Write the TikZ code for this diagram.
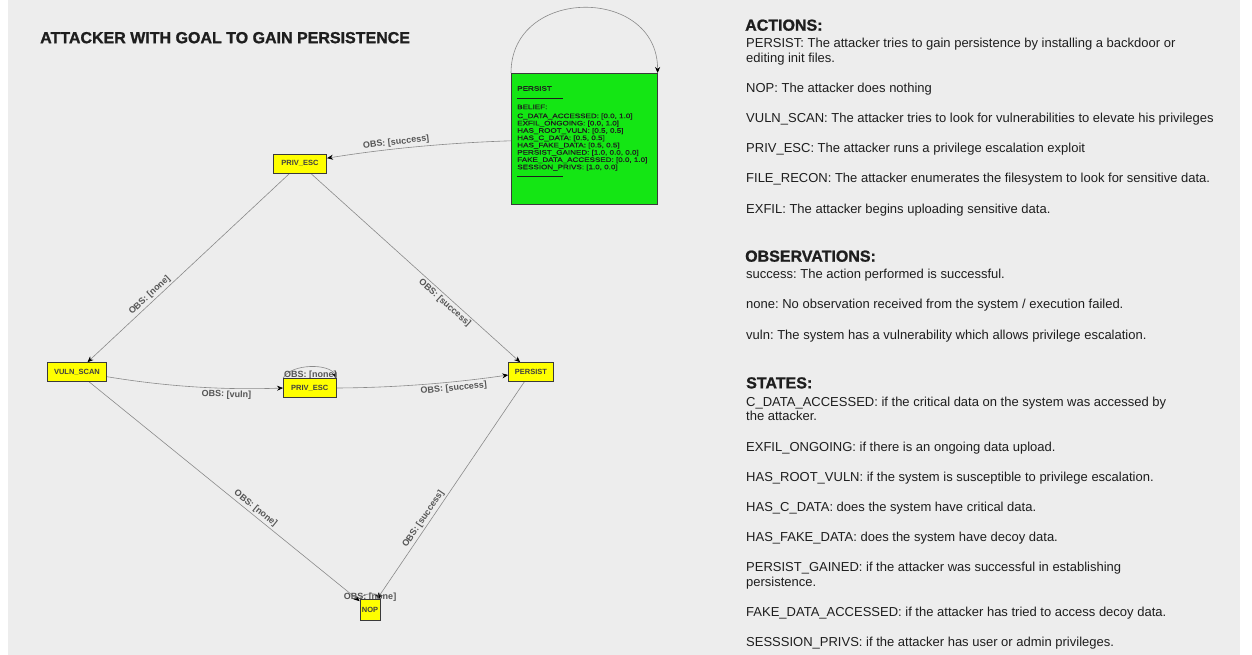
\documentclass[tikz,border=0pt]{standalone}
\usepackage{fontspec}
\setmainfont{Liberation Sans}
\newfontfamily\stretchfont[FakeStretch=1.24,FakeBold=0.6]{Liberation Sans}
\newfontfamily\heavyfont[FakeBold=1.2]{Liberation Sans Bold}
\usetikzlibrary{arrows.meta}
\definecolor{bg}{HTML}{EDEDED}
\definecolor{boxyellow}{HTML}{FFFF00}
\definecolor{boxgreen}{HTML}{14E614}
\definecolor{edgegray}{HTML}{8A8A8A}
\definecolor{labelgray}{HTML}{555555}
\definecolor{txt}{HTML}{1E1E1E}
\definecolor{boxline}{HTML}{3A3A3A}
\pgfdeclarelayer{bgfill}
\pgfdeclarelayer{edges}
\pgfsetlayers{bgfill,edges,main}
\frenchspacing
\begin{document}
\frenchspacing
\begin{tikzpicture}[x=1pt,y=-1pt,
  state/.style={draw=boxline, fill=boxyellow, line width=0.6pt,
    font=\fontsize{7.5}{9}\selectfont\bfseries, text=txt!85,
    minimum height=19pt, inner xsep=1pt, inner ysep=0pt},
  greenbox/.style={draw=boxline, fill=boxgreen, line width=0.6pt, inner sep=0pt},
  edge/.style={draw=edgegray, line width=0.6pt,
    -{Stealth[length=6pt,width=5pt,color=black]}},
  elabel/.style={font=\fontsize{9}{10}\selectfont\bfseries, text=labelgray, inner sep=2pt},
  body/.style={anchor=base west, font=\fontsize{13}{15}\selectfont\frenchspacing, text=txt, inner sep=0pt},
  head/.style={anchor=base west, font=\fontsize{16}{18}\selectfont\heavyfont, text=txt, inner sep=0pt},
]
\begin{pgfonlayer}{bgfill}
\fill[white] (0,0) rectangle (1252,655);
\fill[bg] (8,0) rectangle (1240,655);
\end{pgfonlayer}
\useasboundingbox (0,0) rectangle (1252,655);

% title
\node[head] (title) at (40,43.2) {ATTACKER WITH GOAL TO GAIN PERSISTENCE};

% state nodes
\node[state, minimum width=53.4pt] (pt) at (300,163.7) {PRIV\_ESC};
\node[state, minimum width=59.4pt] (vs) at (77,372) {VULN\_SCAN};
\node[state, minimum width=52.7pt] (pm) at (309.7,388) {PRIV\_ESC};
\node[state, minimum width=45pt] (pr) at (531,372) {PERSIST};
\node[state, minimum width=20pt, minimum height=21pt, inner xsep=0pt] (nop) at (370,609.5) {NOP};

\node[greenbox, anchor=north west] (gp) at (511,73) {\parbox[t][131pt][t]{146pt}{%
\stretchfont\fontsize{6.5}{7.3}\selectfont\color{txt}\leftskip=6pt\relax
\vspace*{12.9pt}PERSIST\par
\rule{46pt}{0.5pt}\par
\vspace{3.8pt}BELIEF:\par
\vspace{1.7pt}C\_DATA\_ACCESSED: [0.0, 1.0]\par
EXFIL\_ONGOING: [0.0, 1.0]\par
HAS\_ROOT\_VULN: [0.5, 0.5]\par
HAS\_C\_DATA: [0.5, 0.5]\par
HAS\_FAKE\_DATA: [0.5, 0.5]\par
PERSIST\_GAINED: [1.0, 0.0, 0.0]\par
FAKE\_DATA\_ACCESSED: [0.0, 1.0]\par
SESSION\_PRIVS: [1.0, 0.0]\par
\rule{46pt}{0.5pt}}};

% edges
\begin{pgfonlayer}{edges}
\draw[edge] (gp.north west) .. controls +(0,-87) and +(0,-87) .. (gp.north east);
\draw[edge] ([yshift=-2pt]gp.west) .. controls +(-61,2) and +(61,-9.9) ..
  node[elabel, sloped, above, pos=0.62] (l0) {OBS: [success]} ([yshift=5.5pt]pt.east);
\draw[edge] (pt) -- node[elabel, sloped, above, pos=0.67] (l1) {OBS: [none]} (vs);
\draw[edge] (pt) -- node[elabel, sloped, below, pos=0.66] (l2) {OBS: [success]} (pr);
\draw[edge] ([yshift=-4.7pt]vs.east) .. controls +(58.9,9.8) and +(-58.9,2.2) ..
  node[elabel, sloped, below, pos=0.68] (l3) {OBS: [vuln]} (pm.west);
\draw[edge] (pm.east) .. controls +(57.4,-0.3) and +(-57.4,8.3) ..
  node[elabel, sloped, below, pos=0.68] (l4) {OBS: [success]} ([yshift=-3pt]pr.west);
\draw[edge] (pm.north west) .. controls +(8,-15) and +(-6,-15) ..
  node[elabel, pos=0.5, yshift=-8pt] (l5) {OBS: [none]} (pm.north east);
\draw[edge] (vs) -- node[elabel, sloped, above, pos=0.6] (l6) {OBS: [none]} (nop);
\draw[edge] (pr) -- node[elabel, sloped, above, pos=0.65] (l7) {OBS: [success]} (nop);
\draw[edge] (nop.north west) .. controls +(4,-6) and +(-4,-6) ..
  node[elabel, pos=0.5, yshift=-3pt] (l8) {OBS: [none]} (nop.north east);
\end{pgfonlayer}

% legend text
\node[head] (hact) at (745,30.7) {ACTIONS:};
\node[body] (a1) at (746,47.9) {PERSIST: The attacker tries to gain persistence by installing a backdoor or};
\node[body] (a2) at (746,62.9) {editing init files.};
\node[body] (a3) at (746,92.9) {NOP: The attacker does nothing};
\node[body] (a4) at (746,122.9) {VULN\_SCAN: The attacker tries to look for vulnerabilities to elevate his privileges};
\node[body] (a5) at (746,152.9) {PRIV\_ESC: The attacker runs a privilege escalation exploit};
\node[body] (a6) at (746,182.9) {FILE\_RECON: The attacker enumerates the filesystem to look for sensitive data.};
\node[body] (a7) at (746,213.6) {EXFIL: The attacker begins uploading sensitive data.};

\node[head] (hobs) at (745,261.7) {OBSERVATIONS:};
\node[body] (o1) at (746,278.9) {success: The action performed is successful.};
\node[body] (o2) at (746,308.6) {none: No observation received from the system / execution failed.};
\node[body] (o3) at (746,339.6) {vuln: The system has a vulnerability which allows privilege escalation.};

\node[head] (hst) at (746,388.4) {STATES:};
\node[body] (s1) at (746,406.3) {C\_DATA\_ACCESSED: if the critical data on the system was accessed by};
\node[body] (s2) at (746,420.6) {the attacker.};
\node[body] (s3) at (746,451.3) {EXFIL\_ONGOING: if there is an ongoing data upload.};
\node[body] (s4) at (746,481.3) {HAS\_ROOT\_VULN: if the system is susceptible to privilege escalation.};
\node[body] (s5) at (746,511.3) {HAS\_C\_DATA: does the system have critical data.};
\node[body] (s6) at (746,541.3) {HAS\_FAKE\_DATA: does the system have decoy data.};
\node[body] (s7) at (746,571.3) {PERSIST\_GAINED: if the attacker was successful in establishing};
\node[body] (s8) at (746,586.9) {persistence.};
\node[body] (s9) at (746,616.9) {FAKE\_DATA\_ACCESSED: if the attacker has tried to access decoy data.};
\node[body] (s10) at (746,646.6) {SESSSION\_PRIVS: if the attacker has user or admin privileges.};
\end{tikzpicture}
\end{document}
